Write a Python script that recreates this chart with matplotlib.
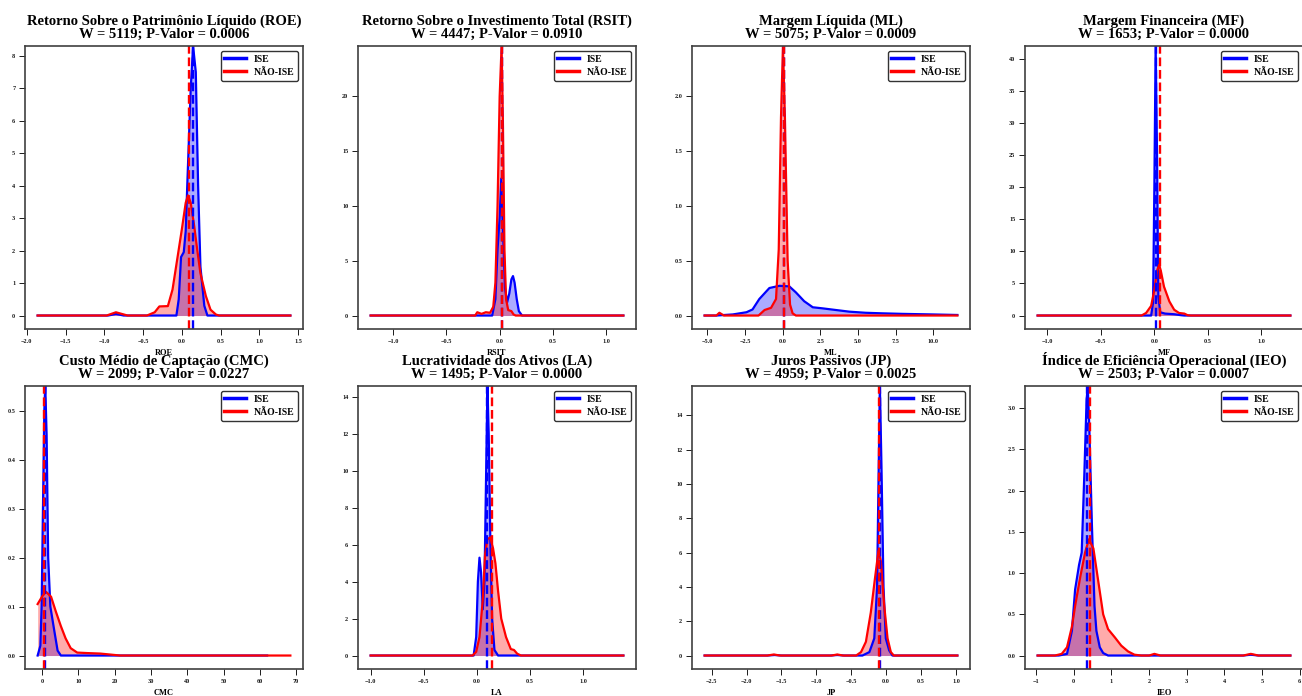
import matplotlib
matplotlib.use("Agg")
import matplotlib.pyplot as plt
from matplotlib.ticker import MultipleLocator

plt.rcParams['font.family'] = ['Liberation Serif', 'DejaVu Serif']
plt.rcParams['font.weight'] = 'bold'

# ---------------- data ----------------
TITLES = ["Retorno Sobre o Patrimônio Líquido (ROE)", "Retorno Sobre o Investimento Total (RSIT)",
          "Margem Líquida (ML)", "Margem Financeira (MF)",
          "Custo Médio de Captação (CMC)", "Lucratividade dos Ativos (LA)",
          "Juros Passivos (JP)", "Índice de Eficiência Operacional (IEO)"]
XLABELS = ["ROE", "RSIT", "ML", "MF", "CMC", "LA", "JP", "IEO"]
W_STATS = [5119, 4447, 5075, 1653, 2099, 1495, 4959, 2503]
P_VALUES = [0.0006, 0.0910, 0.0009, 0.0000, 0.0227, 0.0000, 0.0025, 0.0007]
SERIES = ["ISE", "NÃO-ISE"]

ROE_ISE_X = [-1.86, -0.95, -0.85, -0.75, -0.07, -0.04, -0.01, 0.025, 0.05, 0.07, 0.115, 0.145, 0.18, 0.21, 0.24, 0.29, 0.33, 1.40]
ROE_ISE_Y = [0, 0, 0.05, 0, 0, 0.5, 1.8, 1.95, 2.6, 4.0, 7.0, 8.3, 7.5, 4.0, 1.5, 0.3, 0, 0]
ROE_NAO_X = [-1.86, -0.97, -0.85, -0.70, -0.45, -0.35, -0.29, -0.18, -0.12, -0.055, 0.0, 0.05, 0.08, 0.115, 0.16, 0.20, 0.24, 0.31, 0.37, 0.44, 0.48, 1.40]
ROE_NAO_Y = [0, 0, 0.1, 0, 0, 0.1, 0.28, 0.29, 0.8, 1.8, 2.65, 3.47, 3.7, 3.47, 2.75, 2.0, 1.3, 0.6, 0.18, 0.03, 0, 0]

RSIT_ISE_X = [-1.21, -0.07, -0.04, -0.02, 0.0, 0.015, 0.03, 0.05, 0.07, 0.09, 0.11, 0.125, 0.14, 0.16, 0.18, 0.21, 1.16]
RSIT_ISE_Y = [0, 0, 1.5, 6, 9, 12.5, 8, 2.5, 1.2, 2.0, 3.3, 3.6, 3.0, 1.5, 0.4, 0, 0]
RSIT_NAO_X = [-1.21, -0.23, -0.21, -0.17, -0.13, -0.09, -0.06, -0.04, -0.02, 0.0, 0.018, 0.03, 0.045, 0.06, 0.08, 0.11, 0.13, 0.15, 1.16]
RSIT_NAO_Y = [0, 0, 0.3, 0.15, 0.3, 0.25, 0.8, 3, 10, 20, 24.6, 18, 6, 1.5, 0.5, 0.4, 0.1, 0, 0]

ML_ISE_X = [-5.18, -4.4, -3.3, -2.4, -2.0, -1.55, -0.88, -0.22, 0.44, 0.88, 1.43, 2.0, 2.66, 3.54, 4.43, 5.5, 6.6, 7.96, 9.9, 11.6]
ML_ISE_Y = [0, 0, 0.01, 0.03, 0.055, 0.15, 0.25, 0.27, 0.265, 0.21, 0.13, 0.075, 0.065, 0.05, 0.035, 0.025, 0.02, 0.015, 0.01, 0.005]
ML_NAO_X = [-5.18, -4.4, -4.2, -3.9, -1.6, -1.2, -0.77, -0.44, -0.26, -0.11, 0.02, 0.15, 0.33, 0.49, 0.66, 0.88, 11.6]
ML_NAO_Y = [0, 0, 0.025, 0, 0, 0.05, 0.07, 0.15, 0.6, 1.8, 2.45, 1.8, 0.5, 0.1, 0.02, 0, 0]

MF_ISE_X = [-1.09, -0.03, -0.012, 0.0, 0.012, 0.025, 0.037, 0.055, 0.1, 0.185, 0.25, 0.28, 1.27]
MF_ISE_Y = [0, 0, 2, 20, 42, 25, 3, 0.5, 0.3, 0.2, 0.05, 0, 0]
MF_NAO_X = [-1.09, -0.12, -0.077, -0.03, 0.0, 0.025, 0.045, 0.06, 0.09, 0.14, 0.185, 0.23, 0.28, 0.31, 0.34, 1.27]
MF_NAO_Y = [0, 0, 0.4, 1.5, 4, 7, 7.9, 7, 4.5, 2.2, 0.9, 0.4, 0.3, 0.05, 0, 0]

CMC_ISE_X = [-1.2, -0.45, -0.1, 0.27, 0.64, 0.9, 1.27, 1.7, 2.3, 3.4, 4.3, 5.2, 62.0]
CMC_ISE_Y = [0, 0.02, 0.1, 0.3, 0.5, 0.55, 0.45, 0.2, 0.1, 0.05, 0.01, 0, 0]
CMC_NAO_X = [-1.2, 0.0, 1.1, 2.5, 3.8, 5.2, 6.5, 7.9, 9.7, 12.5, 16.0, 18.8, 21.5, 68.4]
CMC_NAO_Y = [0.105, 0.12, 0.13, 0.12, 0.09, 0.06, 0.035, 0.015, 0.006, 0.005, 0.004, 0.002, 0, 0]

LA_ISE_X = [-1.0, -0.03, -0.006, 0.01, 0.025, 0.04, 0.056, 0.072, 0.088, 0.1, 0.112, 0.128, 0.144, 0.166, 0.2, 1.38]
LA_ISE_Y = [0, 0, 1.0, 4, 5.3, 4.5, 2.5, 4, 10, 14.6, 12, 6, 2, 0.3, 0, 0]
LA_NAO_X = [-1.0, -0.04, -0.006, 0.025, 0.056, 0.078, 0.1, 0.128, 0.153, 0.175, 0.2, 0.23, 0.275, 0.32, 0.35, 0.38, 0.415, 1.38]
LA_NAO_Y = [0, 0, 0.2, 1, 3, 5.5, 6.3, 6.4, 5.8, 5.0, 3.5, 2.0, 1.0, 0.35, 0.3, 0.1, 0, 0]

JP_ISE_X = [-2.6, -1.7, -1.6, -1.5, -0.8, -0.7, -0.6, -0.34, -0.24, -0.17, -0.13, -0.11, -0.09, -0.067, -0.038, -0.005, 0.043, 0.09, 1.02]
JP_ISE_Y = [0, 0, 0.03, 0, 0, 0.03, 0, 0, 0.2, 1, 4, 10, 15.7, 11, 4, 1, 0.3, 0, 0]
JP_NAO_X = [-2.6, -1.7, -1.61, -1.52, -0.78, -0.7, -0.62, -0.43, -0.36, -0.29, -0.22, -0.16, -0.11, -0.076, -0.03, 0.02, 0.067, 0.11, 1.02]
JP_NAO_Y = [0, 0, 0.06, 0, 0, 0.06, 0, 0, 0.2, 0.8, 2.5, 4.5, 6.1, 5.5, 3, 1, 0.2, 0, 0]

IEO_ISE_X = [-0.96, -0.4, -0.18, -0.05, 0.035, 0.14, 0.21, 0.28, 0.34, 0.37, 0.41, 0.48, 0.55, 0.6, 0.69, 0.78, 0.91, 4.5, 4.7, 4.9, 5.75]
IEO_ISE_Y = [0, 0, 0.02, 0.3, 0.8, 1.1, 1.25, 2.2, 3.1, 3.27, 2.8, 1.6, 0.6, 0.3, 0.1, 0.03, 0, 0, 0.01, 0, 0]
IEO_NAO_X = [-0.96, -0.5, -0.32, -0.18, -0.05, 0.035, 0.17, 0.3, 0.4, 0.52, 0.65, 0.78, 0.91, 1.09, 1.26, 1.44, 1.61, 1.79, 2.0, 2.14, 2.3, 4.5, 4.7, 4.9, 5.75]
IEO_NAO_Y = [0, 0, 0.02, 0.1, 0.35, 0.6, 0.95, 1.25, 1.41, 1.3, 0.9, 0.5, 0.32, 0.22, 0.12, 0.05, 0.01, 0, 0, 0.02, 0, 0, 0.02, 0, 0]

ISE_MEANS = [0.145, 0.019, 0.07, 0.012, 0.9, 0.097, -0.086, 0.34]
NAO_MEANS = [0.094, 0.020, 0.07, 0.050, 0.45, 0.144, -0.100, 0.44]

ISE_CURVES = [(ROE_ISE_X, ROE_ISE_Y), (RSIT_ISE_X, RSIT_ISE_Y), (ML_ISE_X, ML_ISE_Y), (MF_ISE_X, MF_ISE_Y),
              (CMC_ISE_X, CMC_ISE_Y), (LA_ISE_X, LA_ISE_Y), (JP_ISE_X, JP_ISE_Y), (IEO_ISE_X, IEO_ISE_Y)]
NAO_CURVES = [(ROE_NAO_X, ROE_NAO_Y), (RSIT_NAO_X, RSIT_NAO_Y), (ML_NAO_X, ML_NAO_Y), (MF_NAO_X, MF_NAO_Y),
              (CMC_NAO_X, CMC_NAO_Y), (LA_NAO_X, LA_NAO_Y), (JP_NAO_X, JP_NAO_Y), (IEO_NAO_X, IEO_NAO_Y)]

# ---------------- styling ----------------
X_STEPS = [0.5, 0.5, 2.5, 0.5, 10, 0.5, 0.5, 1]
Y_STEPS = [1, 5, 0.5, 5, 0.1, 2, 2, 0.5]
COLORS = ["#0000ff", "#ff0000"]

W, H = 1302, 696
fig = plt.figure(figsize=(W / 100, H / 100), dpi=100)

lefts = [25, 358, 692, 1025]
tops = [46, 386]
aw, ah = 278, 283

for i in range(8):
    r, c = divmod(i, 4)
    ax = fig.add_axes([lefts[c] / W, 1 - (tops[r] + ah) / H, aw / W, ah / H])
    ymax = 0
    for (xs, ys), col, lab in zip([ISE_CURVES[i], NAO_CURVES[i]], COLORS, SERIES):
        ax.fill_between(xs, 0, ys, color=col, alpha=0.33, linewidth=0)
        ax.plot(xs, ys, color=col, lw=1.6, label=lab)
        ymax = max(ymax, max(ys))
    ax.axvline(ISE_MEANS[i], color=COLORS[0], ls='--', lw=1.7)
    ax.axvline(NAO_MEANS[i], color=COLORS[1], ls='--', lw=1.7)
    ax.set_ylim(-0.05 * ymax, ymax)
    ax.xaxis.set_major_locator(MultipleLocator(X_STEPS[i]))
    ax.yaxis.set_major_locator(MultipleLocator(Y_STEPS[i]))
    ax.tick_params(labelsize=4.5, length=4, width=0.7, pad=3, colors='0.1')
    for s in ax.spines.values():
        s.set_color('0.25')
        s.set_linewidth(1.2)
    ax.set_xlabel(XLABELS[i], fontsize=6, fontweight='bold', labelpad=4)
    ax.set_title(f"{TITLES[i]}\nW = {W_STATS[i]}; P-Valor = {P_VALUES[i]:.4f}",
                 fontsize=10.5, fontweight='bold', linespacing=0.95, pad=6)
    leg = ax.legend(loc='upper right', prop={'weight': 'bold', 'size': 7},
                    frameon=True, fancybox=True, framealpha=1, edgecolor='0.2',
                    handlelength=2.2, borderpad=0.4, labelspacing=0.4)
    leg.get_frame().set_linewidth(1.0)
    for line in leg.get_lines():
        line.set_linewidth(2.5)

fig.savefig("out.png", dpi=100)
